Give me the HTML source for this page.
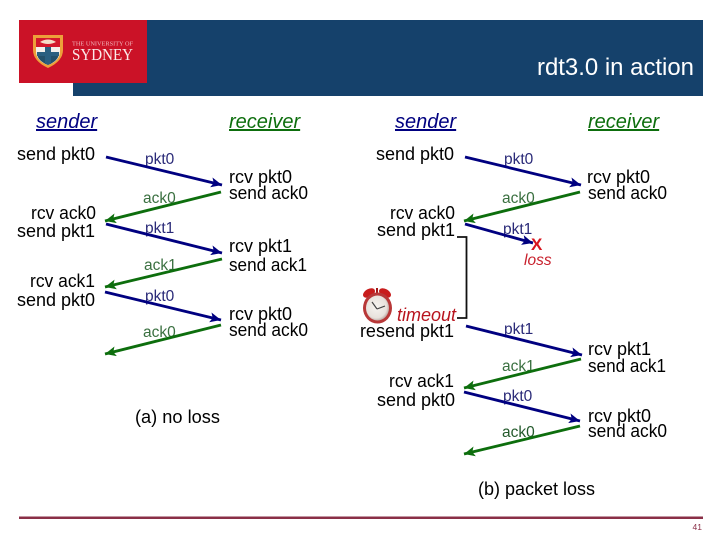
<!DOCTYPE html>
<html><head><meta charset="utf-8"><style>
html,body{margin:0;padding:0;background:#fff;width:720px;height:540px;overflow:hidden}
svg{display:block}
text{font-family:"Liberation Sans",sans-serif}
.t{font-size:18px;fill:#000}
.e{text-anchor:end}
.p{font-size:15.5px;fill:#2a2a78}
.a{font-size:15.5px;fill:#3a7040}
.b{stroke:#000080;stroke-width:2.8;fill:none}
.g{stroke:#0d6e0d;stroke-width:2.8;fill:none}
.s{font-size:20px;font-style:italic;fill:#000080;text-decoration:underline}
.r{font-size:20px;font-style:italic;fill:#0d6e0d;text-decoration:underline}
</style></head><body>
<svg width="720" height="540" viewBox="0 0 720 540" xmlns="http://www.w3.org/2000/svg">
<defs>
<marker id="mb" markerUnits="userSpaceOnUse" markerWidth="12" markerHeight="10" refX="11" refY="5" orient="auto"><path d="M0 0L11 5L0 10L2.500 5Z" fill="#000080"/></marker>
<marker id="mg" markerUnits="userSpaceOnUse" markerWidth="12" markerHeight="10" refX="11" refY="5" orient="auto"><path d="M0 0L11 5L0 10L2.500 5Z" fill="#0d6e0d"/></marker>
<radialGradient id="dial" cx="0.45" cy="0.45" r="0.6"><stop offset="0" stop-color="#f6f4f0"/><stop offset="0.75" stop-color="#e8e2dc"/><stop offset="1" stop-color="#b09a94"/></radialGradient>
</defs>
<rect x="73" y="20" width="630" height="76" fill="#15416b"/>
<rect x="19" y="20" width="128" height="63" fill="#cb1227"/>
<path d="M33 35h30v15q0 11-15 18q-15-7-15-18z" fill="#eda03a"/>
<path d="M36 38h24v9h-24z" fill="#d3182c"/>
<path d="M36 47h24v4q0 10-12 14q-12-4-12-14z" fill="#f4f0ec"/>
<path d="M37 54h22q-1 7-11 11q-10-4-11-11z" fill="#24506a"/>
<path d="M45 47h6v17h-6z" fill="#2a5f80"/>
<path d="M37 52h22v4H37z" fill="#2a5f80"/>
<path d="M40 42q8-5 16 0q-8 4-16 0z" fill="#f5dcc8"/>
<text x="72" y="45.500" font-size="6.500" fill="#f2b8be" textLength="61" lengthAdjust="spacingAndGlyphs" style="font-family:'Liberation Serif',serif">THE UNIVERSITY OF</text>
<text x="72" y="60" font-size="17" fill="#fbeaea" textLength="61" lengthAdjust="spacingAndGlyphs" style="font-family:'Liberation Serif',serif">SYDNEY</text>
<text x="694" y="75" font-size="24" fill="#fff" text-anchor="end" textLength="157" lengthAdjust="spacingAndGlyphs">rdt3.0 in action</text>

<text x="36" y="128" class="s">sender</text>
<text x="229" y="128" class="r">receiver</text>
<text x="395" y="128" class="s">sender</text>
<text x="588" y="128" class="r">receiver</text>

<!-- left -->
<text x="95" y="160" class="t e">send pkt0</text>
<text x="96" y="219" class="t e" textLength="65" lengthAdjust="spacingAndGlyphs">rcv ack0</text>
<text x="95" y="237" class="t e">send pkt1</text>
<text x="95" y="287" class="t e" textLength="65" lengthAdjust="spacingAndGlyphs">rcv ack1</text>
<text x="95" y="306" class="t e">send pkt0</text>
<text x="229" y="183" class="t">rcv pkt0</text>
<text x="229" y="199" class="t" textLength="79" lengthAdjust="spacingAndGlyphs">send ack0</text>
<text x="229" y="252" class="t">rcv pkt1</text>
<text x="229" y="271" class="t" textLength="78" lengthAdjust="spacingAndGlyphs">send ack1</text>
<text x="229" y="320" class="t">rcv pkt0</text>
<text x="229" y="336" class="t" textLength="79" lengthAdjust="spacingAndGlyphs">send ack0</text>
<text x="145" y="164" class="p">pkt0</text>
<text x="143" y="203" class="a">ack0</text>
<text x="145" y="233" class="p">pkt1</text>
<text x="144" y="270" class="a">ack1</text>
<text x="145" y="301" class="p">pkt0</text>
<text x="143" y="337" class="a">ack0</text>
<line x1="106" y1="157" x2="222" y2="185" class="b" marker-end="url(#mb)"/>
<line x1="221" y1="192" x2="105" y2="221" class="g" marker-end="url(#mg)"/>
<line x1="106" y1="224" x2="222" y2="253" class="b" marker-end="url(#mb)"/>
<line x1="222" y1="259" x2="105" y2="287" class="g" marker-end="url(#mg)"/>
<line x1="105" y1="292" x2="221" y2="320" class="b" marker-end="url(#mb)"/>
<line x1="221" y1="325" x2="105" y2="354" class="g" marker-end="url(#mg)"/>
<text x="135" y="423" class="t" textLength="85" lengthAdjust="spacingAndGlyphs">(a) no loss</text>

<!-- right -->
<text x="454" y="160" class="t e">send pkt0</text>
<text x="455" y="219" class="t e" textLength="65" lengthAdjust="spacingAndGlyphs">rcv ack0</text>
<text x="455" y="236" class="t e">send pkt1</text>
<text x="454" y="337" class="t e">resend pkt1</text>
<text x="454" y="387" class="t e" textLength="65" lengthAdjust="spacingAndGlyphs">rcv ack1</text>
<text x="455" y="406" class="t e">send pkt0</text>
<text x="587" y="183" class="t">rcv pkt0</text>
<text x="588" y="199" class="t" textLength="79" lengthAdjust="spacingAndGlyphs">send ack0</text>
<text x="588" y="355" class="t">rcv pkt1</text>
<text x="588" y="372" class="t" textLength="78" lengthAdjust="spacingAndGlyphs">send ack1</text>
<text x="588" y="422" class="t">rcv pkt0</text>
<text x="588" y="437" class="t" textLength="79" lengthAdjust="spacingAndGlyphs">send ack0</text>
<text x="504" y="164" class="p">pkt0</text>
<text x="502" y="203" class="a">ack0</text>
<text x="503" y="234" class="p">pkt1</text>
<text x="504" y="334" class="p">pkt1</text>
<text x="502" y="371" class="a">ack1</text>
<text x="503" y="401" class="p">pkt0</text>
<text x="502" y="437" class="a" style="fill:#245a2c">ack0</text>
<line x1="465" y1="157" x2="581" y2="185" class="b" marker-end="url(#mb)"/>
<line x1="580" y1="192" x2="464" y2="221" class="g" marker-end="url(#mg)"/>
<line x1="465" y1="224" x2="533" y2="243" class="b" marker-end="url(#mb)"/>
<line x1="466" y1="326" x2="582" y2="355" class="b" marker-end="url(#mb)"/>
<line x1="581" y1="359" x2="464" y2="388" class="g" marker-end="url(#mg)"/>
<line x1="464" y1="392" x2="580" y2="421" class="b" marker-end="url(#mb)"/>
<line x1="580" y1="426" x2="464" y2="454" class="g" marker-end="url(#mg)"/>
<path d="M457 237H466.500V318H457" fill="none" stroke="#111" stroke-width="1.800"/>
<text x="531" y="250" font-size="17" font-weight="bold" fill="#d8141e">X</text>
<text x="524" y="265" font-size="15.500" font-style="italic" fill="#c8202c">loss</text>
<text x="397" y="321" font-size="18" font-style="italic" fill="#b8141e">timeout</text>
<!-- alarm clock -->
<g>
<ellipse cx="369" cy="293" rx="6.500" ry="4" fill="#c81c1c" transform="rotate(-30 369 293)"/>
<ellipse cx="385" cy="293" rx="6.500" ry="4" fill="#c81c1c" transform="rotate(30 385 293)"/>
<line x1="377" y1="288" x2="377" y2="294" stroke="#a01818" stroke-width="2"/>
<ellipse cx="377.500" cy="308" rx="14.500" ry="15.500" fill="#b83838"/>
<ellipse cx="377.500" cy="308" rx="11.500" ry="12.500" fill="url(#dial)"/>
<path d="M377 309L372 302M377 309L385 306" stroke="#444" stroke-width="1.200" fill="none"/>
</g>
<text x="478" y="495" class="t">(b) packet loss</text>

<rect x="19" y="516.500" width="684" height="2.500" fill="#8a2f47"/>
<text x="702" y="530" font-size="8.500" fill="#8a2f47" text-anchor="end">41</text>
</svg>
</body></html>
